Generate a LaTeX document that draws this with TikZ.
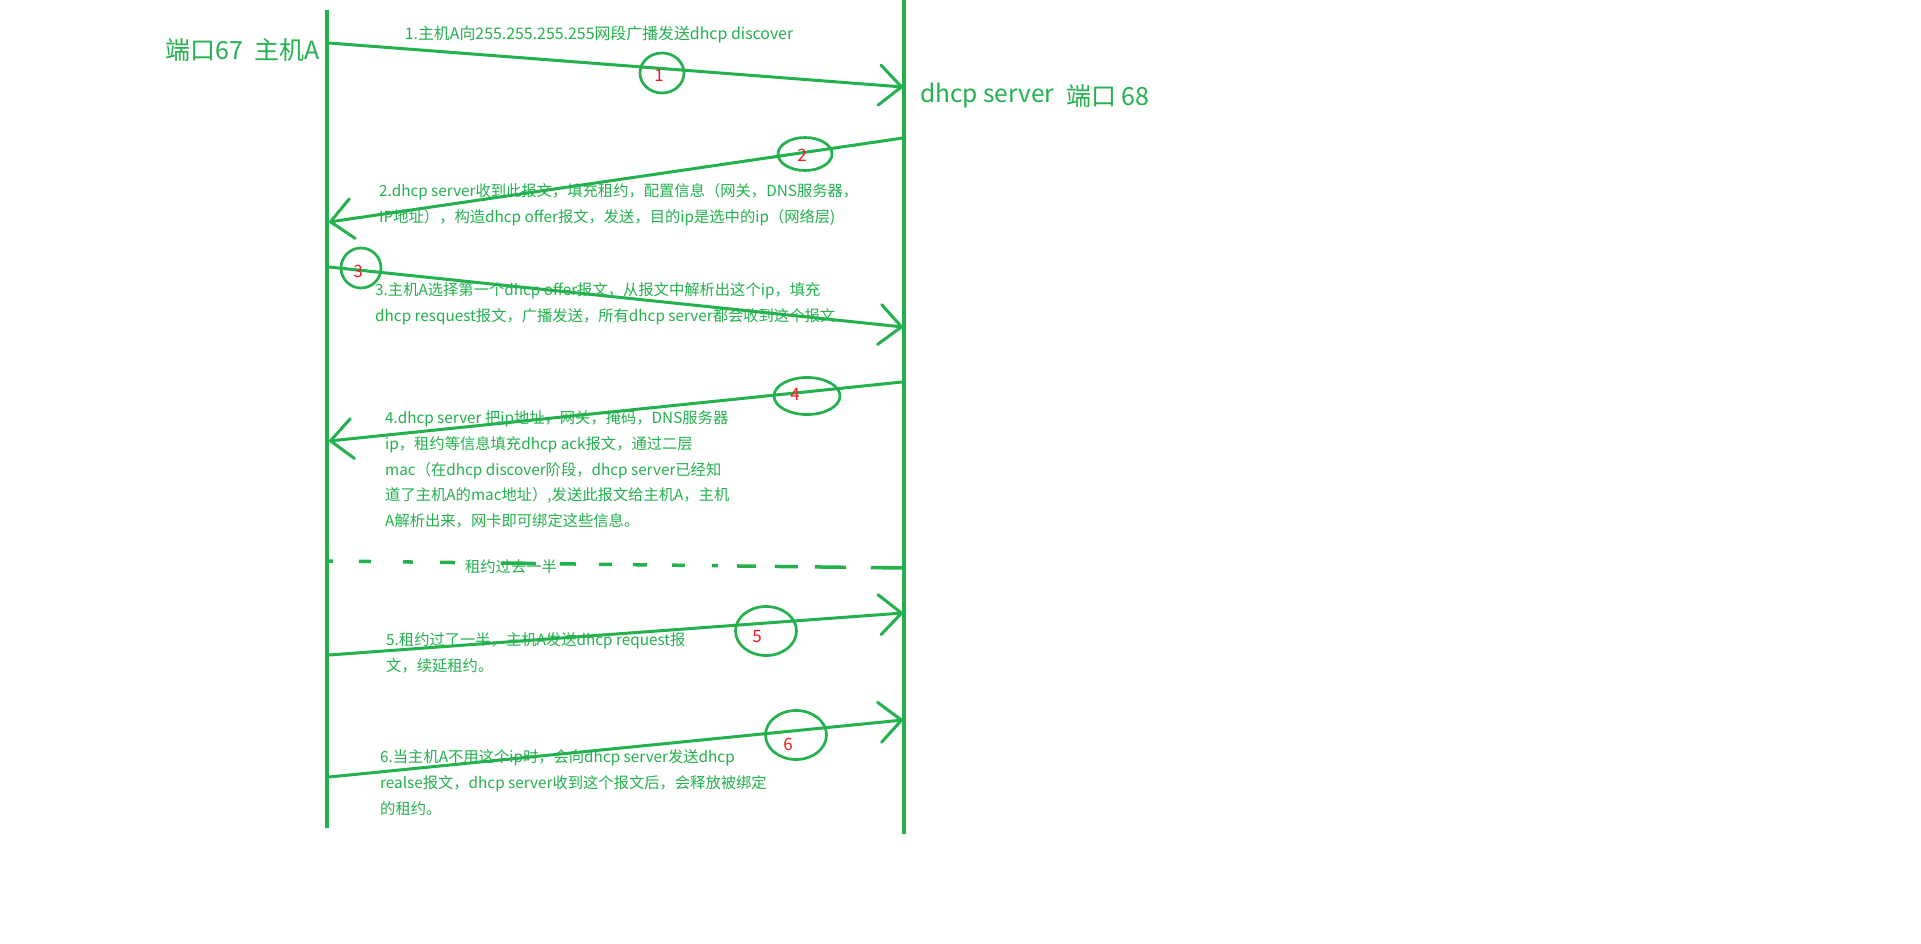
\documentclass[tikz,border=0pt]{standalone}
\usepackage{fontspec}
\setmainfont{Noto Sans CJK SC}
\usetikzlibrary{arrows.meta,shapes.geometric}
\definecolor{pgreen}{RGB}{34,177,76}
\definecolor{pred}{RGB}{237,28,36}
\begin{document}
\begin{tikzpicture}[x=1pt,y=-1pt,
  lifeline/.style={draw=pgreen,line width=4.6pt},
  msg/.style={draw=pgreen,line width=3pt,line cap=round,
    -{Straight Barb[length=22pt,width=40pt,line cap=round,line join=round]}},
  ring/.style={draw=pgreen,line width=2.7pt,ellipse,inner sep=0pt},
  num/.style={text=pred,font=\fontsize{17}{17}\selectfont,inner sep=0pt},
  txt/.style={text=pgreen,font=\fontsize{15.3}{25.8}\selectfont,inner sep=0pt,align=left,anchor=north west},
  big/.style={text=pgreen,font=\fontsize{25}{25}\selectfont,inner sep=0pt},
  half/.style={draw=pgreen,line width=3.5pt,
    dash pattern=on 4pt off 26pt on 12pt off 32pt on 10pt off 27pt on 15pt off 46pt on 35pt off 24pt on 16pt off 23pt on 13pt off 21pt on 14pt off 25pt on 13pt off 27pt on 6pt off 19pt on 19pt off 19pt on 23pt off 17pt on 31pt off 25pt on 32pt off 200pt}]
\fill[white] (0,0) rectangle (1921,944);
\useasboundingbox (0,0) rectangle (1921,944);

% lifelines
\coordinate (Ltop) at (327,10);
\coordinate (Lbot) at (327,828);
\coordinate (Rtop) at (904,0);
\coordinate (Rbot) at (904,834);
\draw[lifeline] (Ltop) -- (Lbot);
\draw[lifeline] (Rtop) -- (Rbot);

% side labels
\node[big,anchor=base east] (hostA) at (320,60) {端口67\ \ 主机A};
\node[big,anchor=base west,font=\fontsize{24.5}{24.5}\selectfont] (srv) at (920,103) {dhcp server};
\node[big,anchor=base west,font=\fontsize{25}{25}\selectfont] (port68) at (1066,106) {端口 68};

% message end points
\coordinate (a1s) at (329,43);  \coordinate (a1e) at (903,87);
\coordinate (a2s) at (903,138); \coordinate (a2e) at (329,222);
\coordinate (a3s) at (329,267); \coordinate (a3e) at (903,327);
\coordinate (a4s) at (902,382); \coordinate (a4e) at (329,441);
\coordinate (a5s) at (329,655); \coordinate (a5e) at (903,613);
\coordinate (a6s) at (329,777); \coordinate (a6e) at (903,720);
\coordinate (hs) at (329,561);  \coordinate (he) at (903,568);

\draw[msg] (a1s) -- (a1e);
\draw[msg] (a2s) -- (a2e);
\draw[msg] (a3s) -- (a3e);
\draw[msg] (a4s) -- (a4e);
\draw[msg] (a5s) -- (a5e);
\draw[msg] (a6s) -- (a6e);
\draw[half] (hs) -- (he);

% rings and numbers
\node[ring,minimum width=44pt,minimum height=40pt] (c1) at (662,73) {};
\node[num] (n1) at (659,75) {1};
\node[ring,minimum width=54pt,minimum height=33pt] (c2) at (805,154) {};
\node[num] (n2) at (802,155) {2};
\node[ring,minimum width=40pt,minimum height=40pt] (c3) at (361,268) {};
\node[num] (n3) at (358,271) {3};
\node[ring,minimum width=66pt,minimum height=37pt] (c4) at (807,396) {};
\node[num] (n4) at (795,394) {4};
\node[ring,minimum width=61pt,minimum height=49pt] (c5) at (766,631) {};
\node[num] (n5) at (757,637) {5};
\node[ring,minimum width=61pt,minimum height=49pt] (c6) at (796,735) {};
\node[num] (n6) at (788,744) {6};

% texts
\node[txt,anchor=base,font=\fontsize{15.9}{25.8}\selectfont] (t1) at (599,39.5) {1.主机A向255.255.255.255网段广播发送dhcp discover};
\node[txt] (t2) at (379,183.5) {2.dhcp server收到此报文，填充租约，配置信息（网关，DNS服务器，\\IP地址），构造dhcp offer报文，发送，目的ip是选中的ip（网络层)};
\node[txt] (t3) at (375,282.5) {3.主机A选择第一个dhcp offer报文，从报文中解析出这个ip，填充\\dhcp resquest报文，广播发送，所有dhcp server都会收到这个报文.};
\node[txt] (t4) at (385,410.5) {4.dhcp server 把ip地址，网关，掩码，DNS服务器\\ip，租约等信息填充dhcp ack报文，通过二层\\mac（在dhcp discover阶段，dhcp server已经知\\道了主机A的mac地址）,发送此报文给主机A，主机\\A解析出来，网卡即可绑定这些信息。};
\node[txt,anchor=center] (th) at (511,567) {租约过去一半};
\node[txt] (t5) at (386,632.5) {5.租约过了一半，主机A发送dhcp request报\\文，续延租约。};
\node[txt] (t6) at (380,749.5) {6.当主机A不用这个ip时，会向dhcp server发送dhcp\\realse报文，dhcp server收到这个报文后，会释放被绑定\\的租约。};
\end{tikzpicture}
\end{document}
